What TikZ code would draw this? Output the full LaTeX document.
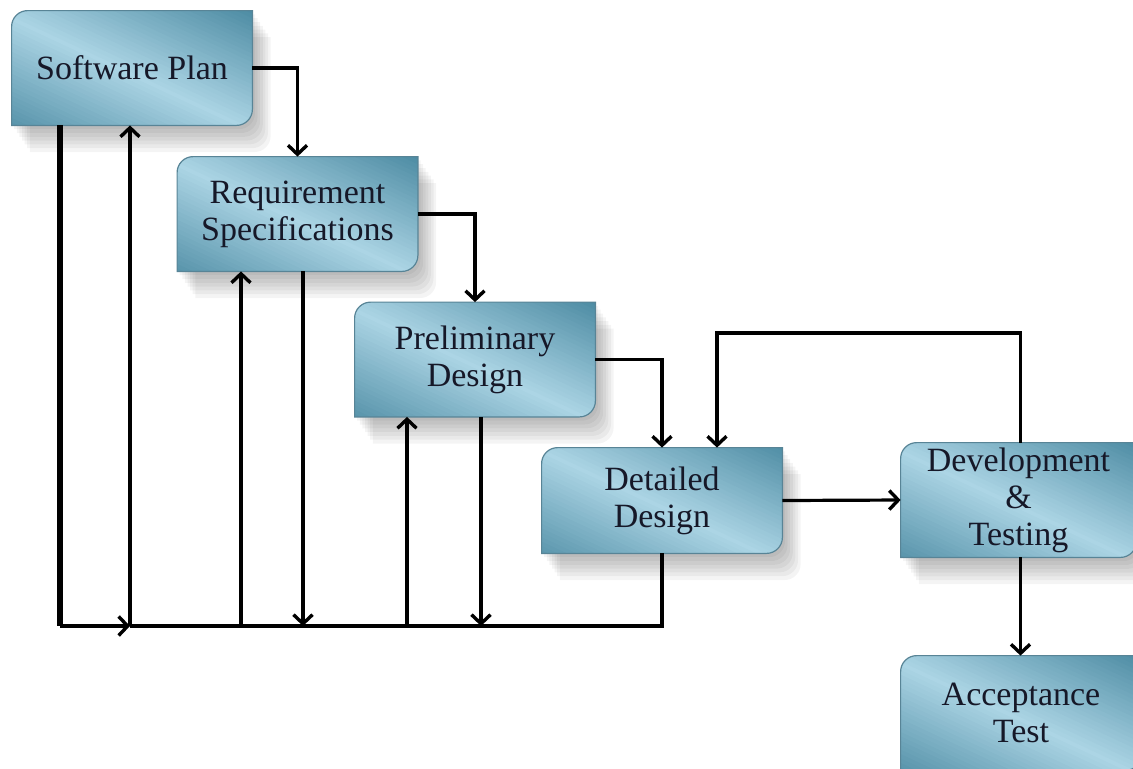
\documentclass[tikz,border=0pt]{standalone}
\usepackage{fontspec}
\setmainfont{Liberation Serif}
\usetikzlibrary{arrows.meta,backgrounds}
\definecolor{boxdark}{RGB}{70,134,158}
\definecolor{boxlight}{RGB}{172,213,229}
\definecolor{boxline}{RGB}{88,132,150}
\definecolor{ink}{RGB}{22,24,40}
\begin{document}
\begin{tikzpicture}[x=0.5pt,y=-0.5pt,
	stage/.style={rectangle, inner sep=0pt, align=center, text=ink,
		minimum width=120pt, minimum height=57pt,
		font=\fontsize{17}{18.5}\selectfont},
	flow/.style={line width=1.6pt, -{Straight Barb[length=4.5pt,width=9.5pt,line width=1.7pt]}},
	wire/.style={line width=1.6pt}]

\useasboundingbox (0,0) rectangle (1133,768);

\node[stage](plan) at(132,68) {Software Plan};
\node[stage](req) at(297.5,214) {Requirement\\Specifications};
\node[stage](prelim) at(475,359.5) {Preliminary\\Design};
\node[stage, minimum height=52.5pt](detail) at(662,500.5) {Detailed\\Design};
\node[stage, minimum width=117.5pt](devtest) at(1018.5,500) {Development\\\&\\Testing};
\node[stage](accept) at(1021,713) {Acceptance\\Test};

% boxes behind the text
\begin{scope}[on background layer]
\foreach \n in {plan,req,prelim,detail,devtest,accept}{
	\path[save path=\stagepath]
		(\n.south west) -- ([yshift=-8pt]\n.north west)
		arc[start angle=180, end angle=90, radius=8pt]
		-- (\n.north east) -- ([yshift=8pt]\n.south east)
		arc[start angle=0, end angle=-90, radius=8pt] -- cycle;
	\foreach \k in {1,...,7}{
		\fill[black, opacity=.045, transform canvas={shift={(1.3*\k pt,-1.9*\k pt)}}] [use path=\stagepath];
	}
	\begin{scope}
		\clip[use path=\stagepath];
		\begin{scope}[shift={(\n.center)}, rotate=65]
		\foreach \t in {-96,-94,...,96}{
			\pgfmathtruncatemacro\p{max(0,100-abs(\t+4)*1.7)}
			\fill[boxlight!\p!boxdark] (\t pt,-120pt) rectangle ++(3pt,240pt);
		}
		\end{scope}
	\end{scope}
	\draw[boxline, line width=0.6pt] [use path=\stagepath];
}
\end{scope}

\coordinate(left) at(60,626);
\coordinate(bus) at(130,626);
\coordinate(loop) at(717,333);

\draw[flow] (plan.east) -| (req.north);
\draw[flow] (req.east) -| (prelim.north);
\draw[flow] (prelim.east) -| (detail.north);
\draw[flow] (detail.east) -- (devtest.west);
\draw[flow] ([xshift=1pt]devtest.north) |- (loop) -- (loop |- detail.north);
\draw[flow] ([xshift=1pt]devtest.south) -- ([xshift=1pt]devtest.south |- accept.north);

% feedback
\draw[line width=2.6pt] (plan.south -| left) -- (left);
\draw[flow] (left) -- (bus);
\draw[wire] (detail.south) |- (bus);

\foreach \x/\n in {130/plan,241/req,407/prelim}{
	\coordinate(up) at(\x,626);
	\draw[flow] (up) -- (up |- \n.south);
}

\foreach \x/\n in {303/req,481/prelim}{
	\coordinate(dn) at(\x,626);
	\draw[flow] (dn |- \n.south) -- (dn);
}

\end{tikzpicture}
\end{document}
